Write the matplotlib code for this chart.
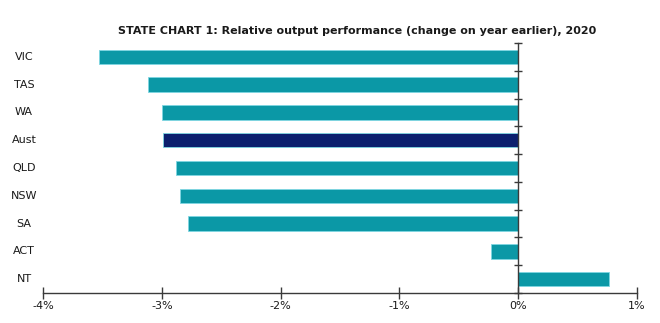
import matplotlib

matplotlib.use("Agg")
import matplotlib.pyplot as plt  # noqa: E402
import numpy as np  # noqa: E402
from matplotlib.ticker import FuncFormatter  # noqa: E402

# --- données ---
states = ["VIC", "TAS", "WA", "Aust", "QLD", "NSW", "SA", "ACT", "NT"]
change = [-3.53, -3.12, -3.00, -2.99, -2.88, -2.85, -2.78, -0.23, 0.76]
x_ticks = [-4, -3, -2, -1, 0, 1]

TEAL = "#0b98a6"
NAVY = "#0c1f6e"
EDGE = "#7fd6e2"
AXIS = "#3a3a3a"
INK = "#1a1a1a"

colors = [NAVY if s == "Aust" else TEAL for s in states]
ypos = np.arange(len(states))

fig = plt.figure(figsize=(6.6, 3.23), dpi=100)
fig.patch.set_facecolor("white")
ax = fig.add_axes([0.0652, 0.0929, 0.9, 0.774])

ax.barh(ypos, change, height=0.52, color=colors, edgecolor=EDGE, linewidth=0.6, zorder=2)

ax.set_xlim(-4, 1)
ax.set_ylim(len(states) - 0.5, -0.5)

# axe vertical placé sur 0 %
ax.spines["left"].set_position(("data", 0))
for s in ("top", "right"):
    ax.spines[s].set_visible(False)
for s in ("left", "bottom"):
    ax.spines[s].set_color(AXIS)
    ax.spines[s].set_linewidth(1.0)
    ax.spines[s].set_zorder(3)

ax.set_xticks(x_ticks)
ax.xaxis.set_major_formatter(FuncFormatter(lambda v, _: f"{v:.0f}%"))
ax.tick_params(axis="x", direction="inout", length=8, width=1, color=AXIS,
               labelsize=8, labelcolor=INK, pad=2)

# graduations entre les catégories, sans étiquettes
ax.set_yticks(np.arange(len(states) + 1) - 0.5)
ax.tick_params(axis="y", direction="inout", length=6, width=1, color=AXIS,
               labelleft=False)

# étiquettes des états à gauche
for y, name in zip(ypos, states):
    ax.text(-0.032, y, name, transform=ax.get_yaxis_transform(),
            ha="center", va="center", fontsize=8, color=INK)

fig.text(0.541, 0.905, "STATE CHART 1: Relative output performance (change on year earlier), 2020",
         ha="center", va="center", fontsize=8.0, fontweight="bold", color=INK)

fig.savefig("out.png", dpi=100, facecolor="white")
